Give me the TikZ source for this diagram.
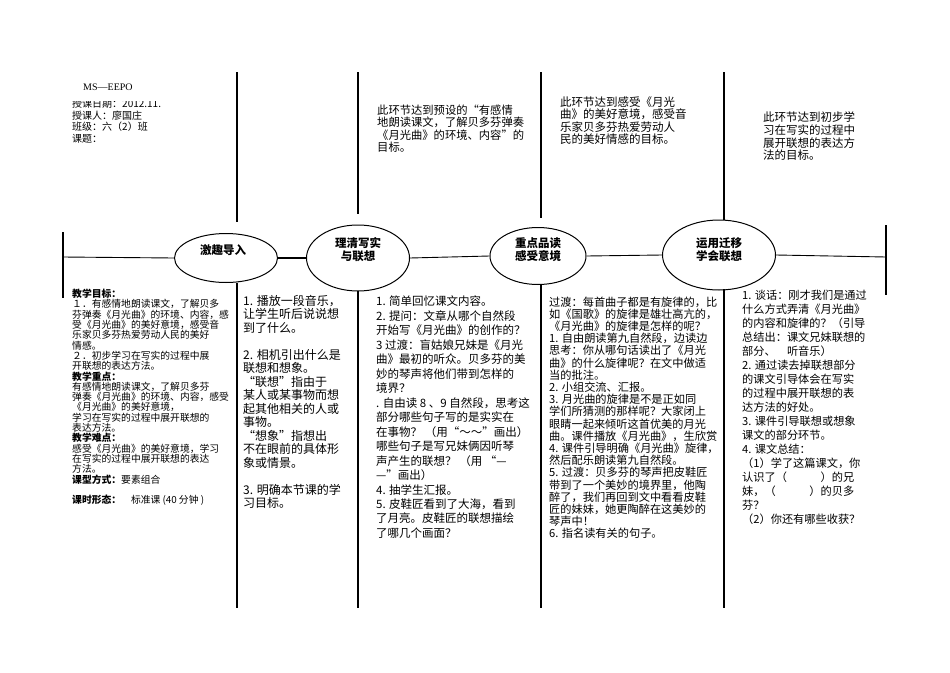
\documentclass[tikz,border=0pt]{standalone}
\usepackage{fontspec}
\setmainfont{Noto Sans CJK SC}
\newfontfamily\latserif{Liberation Serif}
\usetikzlibrary{shapes.geometric}
\begin{document}
\begin{tikzpicture}[x=1pt,y=-1pt,
  vline/.style={line width=1.3pt},
  hline/.style={line width=0.9pt},
  endbar/.style={line width=1.6pt},
  stage/.style={ellipse,draw,line width=1pt,inner sep=0pt},
  stagelabel/.style={inner sep=0pt,align=center,font=\bfseries\fontsize{11.5}{13}\selectfont},
  txt/.style={anchor=north west,inner sep=0pt,align=left}]
\useasboundingbox (0,0) rectangle (950,672);

% ---------- ellipses ----------
\node[stage,minimum width=103pt,minimum height=49pt] (e1) at (226,258) {};
\node[stage,minimum width=103pt,minimum height=66pt] (e2) at (358,258) {};
\node[stage,minimum width=96pt,minimum height=57pt] (e3) at (538,256) {};
\node[stage,minimum width=113pt,minimum height=70pt] (e4) at (719,255) {};
\node[stagelabel] (l1) at (223,250) {激趣导入};
\node[stagelabel] (l2) at (358,250) {理清写实\\与联想};
\node[stagelabel] (l3) at (538,249.5) {重点品读\\感受意境};
\node[stagelabel] (l4) at (719,249.5) {运用迁移\\学会联想};

% ---------- horizontal axis ----------
\coordinate (L) at (63,257);
\coordinate (R) at (886,257);
\coordinate (Lt) at (63,232); \coordinate (Lb) at (63,298);
\coordinate (Rt) at (886,225); \coordinate (Rb) at (886,295);
\draw[endbar] (Lt) -- (Lb);
\draw[endbar] (Rt) -- (Rb);
\draw[hline] (L) -- (e1.west);
\draw[line width=2pt] (e1.east) -- (e2.west);
\draw[hline] (e2.east) -- (e3.west);
\draw[hline] (e3.east) -- (e4.west);
\draw[hline] (e4.east) -- (R);

% ---------- vertical lines ----------
\coordinate (t1) at (237,72);  \coordinate (u1) at (237,222); \coordinate (d1) at (237,283); \coordinate (b1) at (237,608);
\coordinate (t2) at (358,72);  \coordinate (u2) at (358,214); \coordinate (d2) at (358,291); \coordinate (b2) at (358,608);
\coordinate (t3) at (541,72);  \coordinate (u3) at (541,218); \coordinate (d3) at (541,284); \coordinate (b3) at (541,608);
\coordinate (t4) at (724,72);  \coordinate (u4) at (724,220); \coordinate (d4) at (724,289); \coordinate (b4) at (724,608);
\foreach \i in {1,2,3,4}{
  \draw[vline] (t\i) -- (u\i);
  \draw[vline] (d\i) -- (b\i);
}

% ---------- header ----------
\node[anchor=west,inner sep=0pt,font=\latserif\fontsize{10}{11.5}\selectfont] (ms) at (83,87) {MS—EEPO};
\begin{scope}
\clip (60,101.5) rectangle (236,150);
\node[txt,font=\fontsize{10}{11.5}\selectfont] (hdr) at (72,99) {授课日期：2012.11.\\授课人：廖国庄\\班级：六（2）班\\课题：};
\end{scope}

% ---------- top notes ----------
\node[txt,font=\fontsize{11.3}{12.5}\selectfont] (n2) at (377,104.3) {此环节达到预设的“有感情\\地朗读课文，了解贝多芬弹奏\\《月光曲》的环境、内容”的\\目标。};
\node[txt,font=\fontsize{11.5}{12.5}\selectfont] (n3) at (560,96.3) {此环节达到感受《月光\\曲》的美好意境，感受音\\乐家贝多芬热爱劳动人\\民的美好情感的目标。};
\node[txt,font=\fontsize{11.5}{12.6}\selectfont] (n4) at (763,112) {此环节达到初步学\\习在写实的过程中\\展开联想的表达方\\法的目标。};

% ---------- column 1 ----------
\node[txt,font=\fontsize{9.8}{10.3}\selectfont] (c1) at (72,289) {\textbf{教学目标：}\\
１．有感情地朗读课文，了解贝多\\
芬弹奏《月光曲》的环境、内容，感\\
受《月光曲》的美好意境，感受音\\
乐家贝多芬热爱劳动人民的美好\\
情感。\\
２．初步学习在写实的过程中展\\
开联想的表达方法。\\
\textbf{教学重点：}\\
有感情地朗读课文，了解贝多芬\\
弹奏《月光曲》的环境、内容，感受\\
《月光曲》的美好意境，\\
学习在写实的过程中展开联想的\\
表达方法。\\
\textbf{教学难点：}\\
感受《月光曲》的美好意境，学习\\
在写实的过程中展开联想的表达\\
方法。\\
\textbf{课型方式：}要素组合\\
\mbox{}\\
\textbf{课时形态：}　标准课 (40 分钟 )};

% ---------- column 2 ----------
\node[txt,font=\fontsize{12}{13.5}\selectfont] (c2) at (243,295) {1. 播放一段音乐，\\
让学生听后说说想\\
到了什么。\\
\mbox{}\\
2. 相机引出什么是\\
联想和想象。\\
“联想”指由于\\
某人或某事物而想\\
起其他相关的人或\\
事物。\\
“想象”指想出\\
不在眼前的具体形\\
象或情景。\\
\mbox{}\\
3. 明确本节课的学\\
习目标。};

% ---------- column 3 ----------
\node[txt,font=\fontsize{11.5}{14.47}\selectfont] (c3) at (376,296) {1. 简单回忆课文内容。\\
2. 提问：文章从哪个自然段\\
开始写《月光曲》的创作的？\\
3 过渡：盲姑娘兄妹是《月光\\
曲》最初的听众。贝多芬的美\\
妙的琴声将他们带到怎样的\\
境界？\\
. 自由读 8 、9 自然段，思考这\\
部分哪些句子写的是实实在\\
在事物？ （用“～～”画出）\\
哪些句子是写兄妹俩因听琴\\
声产生的联想？ （用 “—\\
—”画出）\\
4. 抽学生汇报。\\
5. 皮鞋匠看到了大海，看到\\
了月亮。皮鞋匠的联想描绘\\
了哪几个画面？};

% ---------- column 4 ----------
\node[txt,font=\fontsize{11.2}{12.2}\selectfont] (c4) at (549,296.4) {过渡：每首曲子都是有旋律的，比\\
如《国歌》的旋律是雄壮高亢的，\\
《月光曲》的旋律是怎样的呢？\\
1. 自由朗读第九自然段，边读边\\
思考：你从哪句话读出了《月光\\
曲》的什么旋律呢？在文中做适\\
当的批注。\\
2. 小组交流、汇报。\\
3. 月光曲的旋律是不是正如同\\
学们所猜测的那样呢？大家闭上\\
眼睛一起来倾听这首优美的月光\\
曲。课件播放《月光曲》，生欣赏\\
4. 课件引导明确《月光曲》旋律，\\
然后配乐朗读第九自然段。\\
5. 过渡：贝多芬的琴声把皮鞋匠\\
带到了一个美妙的境界里，他陶\\
醉了，我们再回到文中看看皮鞋\\
匠的妹妹，她更陶醉在这美妙的\\
琴声中！\\
6. 指名读有关的句子。};

% ---------- column 5 ----------
\node[txt,font=\fontsize{11.2}{14.06}\selectfont] (c5) at (742,289.4) {1. 谈话：刚才我们是通过\\
什么方式弄清《月光曲》\\
的内容和旋律的？（引导\\
总结出：课文兄妹联想的\\
部分、　听音乐）\\
2. 通过读去掉联想部分\\
的课文引导体会在写实\\
的过程中展开联想的表\\
达方法的好处。\\
3. 课件引导联想或想象\\
课文的部分环节。\\
4. 课文总结：\\
（1）学了这篇课文，你\\
认识了（　　　）的兄\\
妹，（　　　）的贝多\\
芬？\\
（2）你还有哪些收获？};
\end{tikzpicture}
\end{document}
